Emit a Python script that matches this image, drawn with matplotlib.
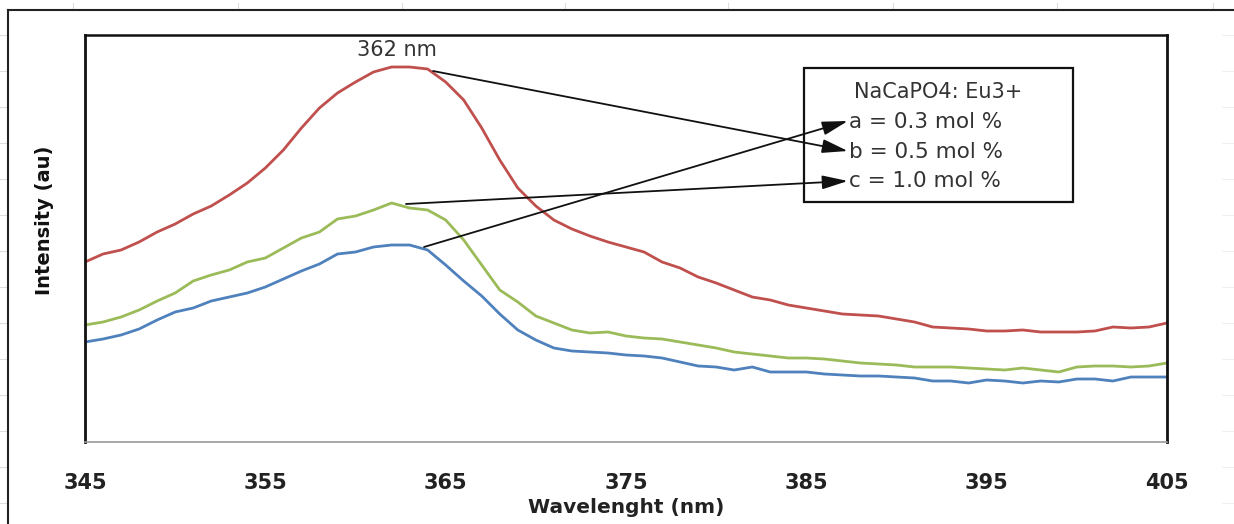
import matplotlib
matplotlib.use("Agg")
import matplotlib.pyplot as plt
from matplotlib.lines import Line2D

W, H = 1234, 524

wavelength = list(range(345, 406))

# intensities (arbitrary units)
sample_b_red = [180, 188, 192, 200, 210, 218, 228, 236, 247, 259, 274, 292, 314, 334, 349, 360,
                370, 375, 375, 373, 360, 342, 314, 282, 254, 236, 222, 213, 206, 200, 195, 190,
                180, 174, 165, 159, 152, 145, 142, 137, 134, 131, 128, 127, 126, 123, 120, 115,
                114, 113, 111, 111, 112, 110, 110, 110, 111, 115, 114, 115, 119]
sample_c_green = [117, 120, 125, 132, 141, 149, 161, 167, 172, 180, 184, 194, 204, 210, 223, 226,
                  232, 239, 234, 232, 222, 202, 177, 152, 140, 126, 119, 112, 109, 110, 106, 104,
                  103, 100, 97, 94, 90, 88, 86, 84, 84, 83, 81, 79, 78, 77, 75, 75,
                  75, 74, 73, 72, 74, 72, 70, 75, 76, 76, 75, 76, 79]
sample_a_blue = [100, 103, 107, 113, 122, 130, 134, 141, 145, 149, 155, 163, 171, 178, 188, 190,
                 195, 197, 197, 192, 177, 161, 146, 128, 112, 102, 94, 91, 90, 89, 87, 86,
                 84, 80, 76, 75, 72, 75, 70, 70, 70, 68, 67, 66, 66, 65, 64, 61,
                 61, 59, 62, 61, 59, 61, 60, 63, 63, 61, 65, 65, 65]

xticks = [345, 355, 365, 375, 385, 395, 405]
legend_title = "NaCaPO4: Eu3+"
legend_lines = ["a = 0.3 mol %", "b = 0.5 mol %", "c = 1.0 mol %"]
peak_label = "362 nm"

RED, GREEN, BLUE = "#C0504D", "#9BBB59", "#4F81BD"

fig = plt.figure(figsize=(W / 100, H / 100), dpi=100)
fig.patch.set_facecolor("white")


def fx(px):
    return px / W


def fy(py):
    return 1 - py / H


# faint outer-chart marks and frame (screenshot context)
for x in [73, 238, 402, 565, 728, 893, 1057, 1213]:
    fig.add_artist(Line2D([fx(x), fx(x)], [fy(3), fy(10)], color="#dddddd", lw=0.8))
for i in range(14):
    y = 35 + i * 36
    fig.add_artist(Line2D([fx(0), fx(8)], [fy(y), fy(y)], color="#dddddd", lw=0.8))
    fig.add_artist(Line2D([fx(1222), fx(1234)], [fy(y), fy(y)], color="#f0f0f0", lw=0.8))
fig.add_artist(Line2D([fx(8), fx(1234)], [fy(10), fy(10)], color="#222222", lw=1.5))
fig.add_artist(Line2D([fx(8), fx(8)], [fy(10), fy(524)], color="#222222", lw=1.5))

ax = fig.add_axes([fx(85), fy(442), fx(1167) - fx(85), fy(35) - fy(442)])
ax.plot(wavelength, sample_b_red, color=RED, lw=2.0, solid_joinstyle="round")
ax.plot(wavelength, sample_c_green, color=GREEN, lw=2.0, solid_joinstyle="round")
ax.plot(wavelength, sample_a_blue, color=BLUE, lw=2.0, solid_joinstyle="round")
ax.set_xlim(345, 405)
ax.set_ylim(0, 407)
ax.set_yticks([])
ax.set_xticks(xticks)
ax.set_xticklabels([str(t) for t in xticks], fontsize=15, fontweight="bold", color="#222222")
ax.tick_params(axis="x", length=0, pad=22)
ax.set_xlabel("Wavelenght (nm)", fontsize=14.5, fontweight="bold", color="#222222", labelpad=4)
ax.spines["left"].set_linewidth(2.0)
ax.spines["left"].set_color("#111111")
ax.spines["top"].set_linewidth(1.8)
ax.spines["top"].set_color("#111111")
ax.spines["right"].set_linewidth(2.0)
ax.spines["right"].set_color("#111111")
ax.spines["bottom"].set_linewidth(1.2)
ax.spines["bottom"].set_color("#9a9a9a")

fig.text(fx(45), fy(220), "Intensity (au)", rotation=90, ha="center", va="center",
         fontsize=14, fontweight="bold", color="#111111")

# legend-like box (inside the axes draw order, below the arrows)
box = plt.Rectangle((fx(804), fy(202)), fx(1073) - fx(804), fy(68) - fy(202),
                    transform=fig.transFigure, facecolor="white", edgecolor="#111111",
                    lw=1.6, clip_on=False, zorder=5)
ax.add_patch(box)
ax.text(fx(938), fy(92), legend_title, transform=fig.transFigure, ha="center", va="center",
        fontsize=15, color="#333333", zorder=6)
for i, t in enumerate(legend_lines):
    ax.text(fx(849), fy(122 + 29.5 * i), t, transform=fig.transFigure, ha="left", va="center",
            fontsize=15.5, color="#333333", zorder=6)

ax.text(362.3, 392, peak_label, ha="center", va="center", fontsize=15, color="#333333")

# arrows: from curves to legend entries (data coordinates)
arrow_starts = [(363.8, 195), (364.3, 371), (362.8, 238)]
arrow_tips = [(387.3, 321), (387.3, 291), (387.3, 261)]
for s, t in zip(arrow_starts, arrow_tips):
    ax.annotate("", xy=t, xytext=s, xycoords="data", textcoords="data",
                arrowprops=dict(arrowstyle="-|>,head_length=1.3,head_width=0.35", color="#111111",
                                lw=1.3, shrinkA=0, shrinkB=0, mutation_scale=12),
                annotation_clip=False, zorder=10)

fig.savefig("out.png", dpi=100, facecolor="white")
